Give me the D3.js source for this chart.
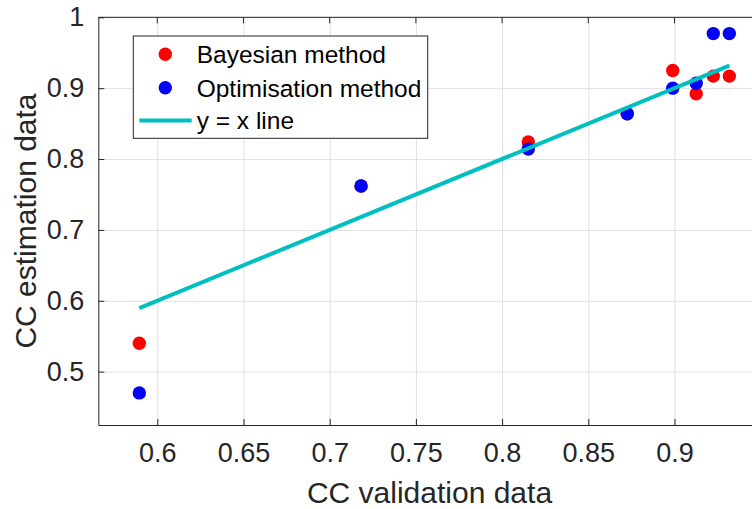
<!DOCTYPE html>
<html>
<head>
<meta charset="utf-8">
<script src="https://cdn.jsdelivr.net/npm/d3@7"></script>
<style>
  body { margin: 0; background: #fff; }
  text { font-family: "Liberation Sans", Arial, sans-serif; fill: #262626; }
</style>
</head>
<body>
<div id="chart-area"></div>
<script>
// values
var validation   = [0.5896, 0.7182, 0.8152, 0.8726, 0.8990, 0.9126, 0.9225, 0.9318];
var bayesian     = [0.540, 0.762, 0.824, 0.864, 0.925, 0.892, 0.917, 0.917];
var optimisation = [0.470, 0.762, 0.814, 0.864, 0.900, 0.907, 0.977, 0.977];
var xTicks = [0.6, 0.65, 0.7, 0.75, 0.8, 0.85, 0.9];
var yTicks = [0.5, 0.6, 0.7, 0.8, 0.9, 1];
var seriesNames = ["Bayesian method", "Optimisation method", "y = x line"];

var W = 752, H = 509;
var pLeft = 98.3, pRight = 760.7, pTop = 17.3, pBottom = 425;

var svg = d3.select("#chart-area")
	.append("svg")
		.attr("width", W)
		.attr("height", H);

var x = d3.scaleLinear().domain([0.5658, 0.95]).range([pLeft, pRight]);
var y = d3.scaleLinear().domain([0.4247, 1]).range([pBottom, pTop]);

// grid
svg.append("g")
	.attr("transform", "translate(0," + pBottom + ")")
	.call(d3.axisBottom(x).tickValues(xTicks).tickSize(-(pBottom - pTop)).tickFormat(""))
	.call(function(g){ g.select(".domain").remove(); g.selectAll("line").attr("stroke", "#e0e0e0"); });

svg.append("g")
	.attr("transform", "translate(" + pLeft + ",0)")
	.call(d3.axisLeft(y).tickValues(yTicks).tickSize(-(pRight - pLeft)).tickFormat(""))
	.call(function(g){ g.select(".domain").remove(); g.selectAll("line").attr("stroke", "#e0e0e0"); });

// axes, ticks pointing inward
var xAxis = svg.append("g")
	.attr("class", "ax")
	.attr("transform", "translate(0," + pBottom + ")")
	.call(d3.axisBottom(x).tickValues(xTicks).tickSizeInner(-6).tickSizeOuter(0).tickPadding(18)
		.tickFormat(function(d){ return String(+d.toFixed(2)); }));

var yAxis = svg.append("g")
	.attr("class", "ax")
	.attr("transform", "translate(" + pLeft + ",0)")
	.call(d3.axisLeft(y).tickValues(yTicks).tickSizeInner(-6).tickSizeOuter(0).tickPadding(14)
		.tickFormat(function(d){ return String(+d.toFixed(1)); }));

svg.selectAll(".ax").attr("font-family", null).attr("font-size", null);
svg.selectAll(".ax text").attr("font-size", "27px").attr("fill", "#262626");
svg.selectAll(".ax .domain").attr("stroke", "#262626");
svg.selectAll(".ax .tick line").attr("stroke", "#262626");

// top border with ticks
svg.append("line")
	.attr("x1", pLeft).attr("x2", pRight).attr("y1", pTop).attr("y2", pTop)
	.attr("stroke", "#262626");
svg.selectAll(".toptick")
	.data(xTicks)
	.enter().append("line")
		.attr("x1", function(d){ return x(d); }).attr("x2", function(d){ return x(d); })
		.attr("y1", pTop).attr("y2", pTop + 6)
		.attr("stroke", "#262626");

// points
svg.selectAll(".bay")
	.data(validation)
	.enter().append("circle")
		.attr("cx", function(d){ return x(d); })
		.attr("cy", function(d, i){ return y(bayesian[i]); })
		.attr("r", 6.7)
		.attr("fill", "#ff0000");

svg.selectAll(".opt")
	.data(validation)
	.enter().append("circle")
		.attr("cx", function(d){ return x(d); })
		.attr("cy", function(d, i){ return y(optimisation[i]); })
		.attr("r", 6.7)
		.attr("fill", "#0000ff");

// y = x line
var ext = d3.extent(validation);
svg.append("path")
	.datum(ext)
	.attr("d", d3.line().x(function(d){ return x(d); }).y(function(d){ return y(d); }))
	.attr("stroke", "#00bfbf")
	.attr("stroke-width", 4)
	.attr("fill", "none");

// axis labels
svg.append("text")
	.attr("x", (pLeft + pRight) / 2)
	.attr("y", 503)
	.attr("font-size", "30px")
	.attr("text-anchor", "middle")
	.text("CC validation data");

svg.append("text")
	.attr("transform", "translate(36,221) rotate(-90)")
	.attr("font-size", "30px")
	.attr("text-anchor", "middle")
	.text("CC estimation data");

// legend
var lg = svg.append("g");
lg.append("rect")
	.attr("x", 133.3).attr("y", 36)
	.attr("width", 294.4).attr("height", 102.3)
	.attr("fill", "#fff")
	.attr("stroke", "#262626")
	.attr("stroke-width", 1);

var rowY = [54.3, 87.7, 120.5];
lg.append("circle").attr("cx", 165.3).attr("cy", rowY[0]).attr("r", 6.7).attr("fill", "#ff0000");
lg.append("circle").attr("cx", 165.3).attr("cy", rowY[1]).attr("r", 6.7).attr("fill", "#0000ff");
lg.append("line")
	.attr("x1", 139.3).attr("x2", 191.7).attr("y1", rowY[2]).attr("y2", rowY[2])
	.attr("stroke", "#00bfbf").attr("stroke-width", 4);

lg.selectAll(".lt")
	.data(seriesNames)
	.enter().append("text")
		.attr("x", 196.7)
		.attr("y", function(d, i){ return rowY[i] + 8.8; })
		.attr("font-size", "24.5px")
		.style("fill", "#000")
		.text(function(d){ return d; });
</script>
</body>
</html>
